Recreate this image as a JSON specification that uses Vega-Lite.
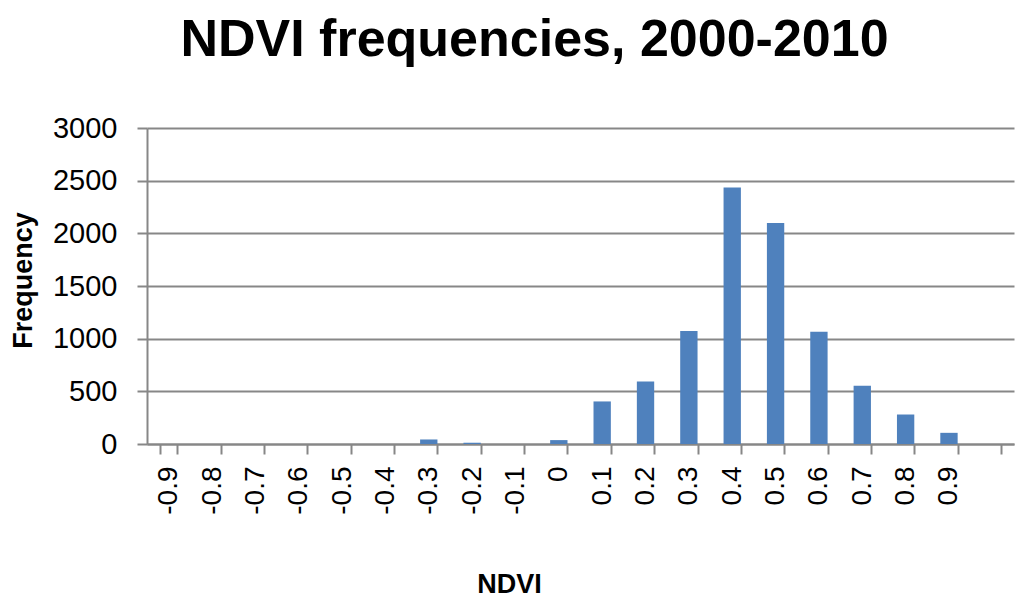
{
  "$schema": "https://vega.github.io/schema/vega-lite/v6.json",
  "autosize": {"type": "none"},
  "width": 867,
  "height": 316,
  "padding": {"left": 147, "top": 128, "right": 10, "bottom": 160},
  "background": "white",
  "title": {
    "text": "NDVI frequencies, 2000-2010",
    "font": "Liberation Sans",
    "fontSize": 52,
    "fontWeight": "bold",
    "color": "black",
    "anchor": "middle",
    "frame": "group",
    "baseline": "alphabetic",
    "dx": -46,
    "offset": 6
  },
  "data": {
    "values": [
      {"NDVI": "-0.9", "Frequency": 0},
      {"NDVI": "-0.8", "Frequency": 0},
      {"NDVI": "-0.7", "Frequency": 0},
      {"NDVI": "-0.6", "Frequency": 0},
      {"NDVI": "-0.5", "Frequency": 0},
      {"NDVI": "-0.4", "Frequency": 0},
      {"NDVI": "-0.3", "Frequency": 43},
      {"NDVI": "-0.2", "Frequency": 12},
      {"NDVI": "-0.1", "Frequency": 0},
      {"NDVI": "0", "Frequency": 37},
      {"NDVI": "0.1", "Frequency": 404},
      {"NDVI": "0.2", "Frequency": 594},
      {"NDVI": "0.3", "Frequency": 1072},
      {"NDVI": "0.4", "Frequency": 2434},
      {"NDVI": "0.5", "Frequency": 2098},
      {"NDVI": "0.6", "Frequency": 1066},
      {"NDVI": "0.7", "Frequency": 553},
      {"NDVI": "0.8", "Frequency": 280},
      {"NDVI": "0.9", "Frequency": 106}
    ]
  },
  "mark": {"type": "bar", "color": "#4F81BD"},
  "encoding": {
    "x": {
      "field": "NDVI",
      "type": "ordinal",
      "scale": {
        "domain": ["-0.9", "-0.8", "-0.7", "-0.6", "-0.5", "-0.4", "-0.3", "-0.2", "-0.1", "0", "0.1", "0.2", "0.3", "0.4", "0.5", "0.6", "0.7", "0.8", "0.9", "1"],
        "paddingInner": 0.6,
        "paddingOuter": 0.3
      },
      "axis": {
        "title": "NDVI",
        "labelExpr": "datum.label == '1' ? '' : datum.label",
        "labelAngle": 270,
        "labelFont": "Liberation Sans",
        "labelFontSize": 28,
        "labelColor": "black",
        "labelPadding": 12,
        "tickBand": "extent",
        "tickSize": 10,
        "tickColor": "#878787",
        "tickWidth": 2,
        "domainColor": "#878787",
        "domainWidth": 2,
        "grid": false,
        "titleFont": "Liberation Sans",
        "titleFontSize": 27,
        "titleFontWeight": "bold",
        "titleColor": "black",
        "titleAlign": "center",
        "titleBaseline": "alphabetic",
        "titleX": 362,
        "titleY": 148
      }
    },
    "y": {
      "field": "Frequency",
      "type": "quantitative",
      "scale": {"domain": [0, 3000], "nice": false},
      "axis": {
        "title": "Frequency",
        "values": [0, 500, 1000, 1500, 2000, 2500, 3000],
        "format": "d",
        "labelFont": "Liberation Sans",
        "labelFontSize": 29,
        "labelColor": "black",
        "labelPadding": 20,
        "tickSize": 10,
        "tickColor": "#878787",
        "tickWidth": 2,
        "domainColor": "#878787",
        "domainWidth": 2,
        "grid": true,
        "gridColor": "#878787",
        "gridWidth": 2,
        "titleFont": "Liberation Sans",
        "titleFontSize": 27,
        "titleFontWeight": "bold",
        "titleColor": "black",
        "titleAngle": 270,
        "titleAlign": "center",
        "titleBaseline": "alphabetic",
        "titleX": -116,
        "titleY": 152
      }
    }
  },
  "config": {"view": {"stroke": null}}
}
